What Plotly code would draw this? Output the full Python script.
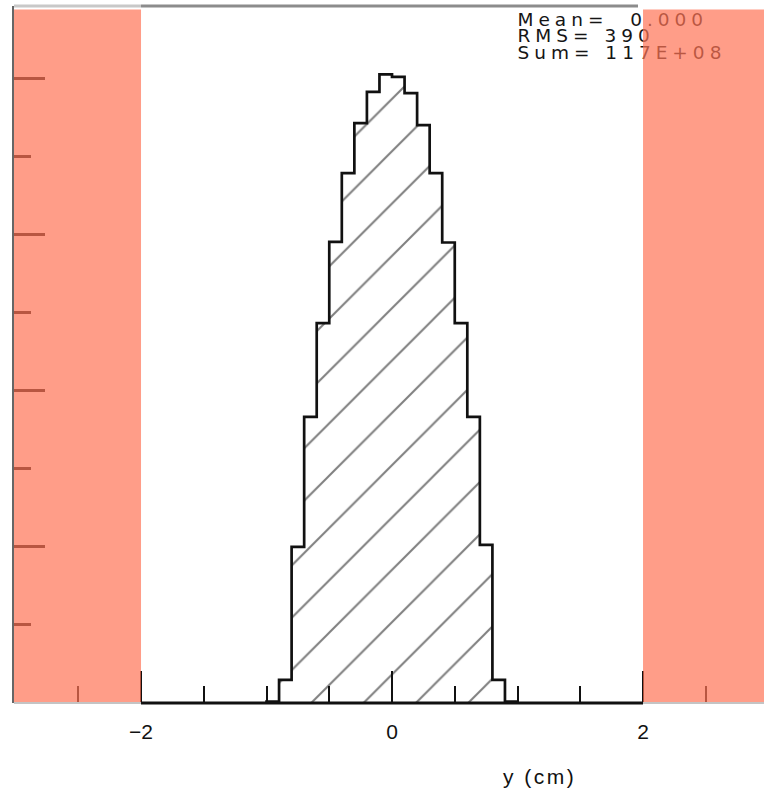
import plotly.graph_objects as go

# ---------------- data ----------------
bin_left = [-1.0, -0.9, -0.8, -0.7, -0.6, -0.5, -0.4, -0.3, -0.2, -0.1,
            0.0, 0.1, 0.2, 0.3, 0.4, 0.5, 0.6, 0.7, 0.8, 0.9]
bin_width = 0.1
counts = [0.024, 0.37, 2.50, 4.58, 6.08, 7.38, 8.48, 9.28, 9.78, 10.06,
          10.02, 9.76, 9.25, 8.48, 7.37, 6.08, 4.58, 2.53, 0.37, 0.024]  # x 1e6

cut_low, cut_high = -2.0, 2.0
x_range = [-3.012, 2.964]
y_range = [0, 11.155]

x_tick_vals = [-2, 0, 2]
x_tick_text = ["\u22122", "0", "2"]
x_minor_vals = [-2.5, -1.5, -1.0, -0.5, 0.5, 1.0, 1.5, 2.5]
y_tick_vals = [2.5, 5.0, 7.5, 10.0]
y_minor_vals = [1.25, 3.75, 6.25, 8.75]

stat_lines = ["Mean=  0.000", "RMS= 390", "Sum= 117E+08"]
stat_y = [10.91, 10.645, 10.38]
stat_x = 1.0
x_title = "y (cm)"

# ---------------- figure ----------------
edges = bin_left + [bin_left[-1] + bin_width]
xs = [edges[0]] + edges
ys = [0] + counts + [0]

fig = go.Figure()
fig.add_trace(go.Scatter(
    x=xs, y=ys, mode="lines", line=dict(shape="hv", color="#111111", width=2.7),
    fill="tozeroy", fillcolor="white",
    fillpattern=dict(shape="/", fgcolor="#000000", bgcolor="white", size=37, solidity=0.055),
    hoverinfo="skip", showlegend=False))

fig.add_trace(go.Scatter(
    x=[stat_x] * len(stat_lines), y=stat_y,
    text=['<span style="letter-spacing:5px">' + s + '</span>' for s in stat_lines],
    mode="text", textposition="middle right",
    textfont=dict(family="DejaVu Sans, Arial, sans-serif", size=18.5, color="#151515"),
    hoverinfo="skip", showlegend=False, cliponaxis=False))

font_main = dict(family="Liberation Sans, Arial, sans-serif", size=21, color="#111111")

fig.update_layout(
    width=764, height=799,
    margin=dict(l=14, r=0, t=6, b=96),
    paper_bgcolor="white", plot_bgcolor="white",
    showlegend=False,
    xaxis=dict(range=x_range, showgrid=False, zeroline=False,
               tickmode="array", tickvals=x_tick_vals, ticktext=x_tick_text,
               ticks="inside", ticklen=32, tickwidth=2, tickcolor="#111111",
               minor=dict(tickmode="array", tickvals=x_minor_vals, ticks="inside",
                          ticklen=17, tickwidth=2, tickcolor="#111111"),
               tickfont=font_main, ticklabelstandoff=14, showline=False),
    yaxis=dict(range=y_range, showgrid=False, zeroline=False,
               tickmode="array", tickvals=y_tick_vals, showticklabels=False,
               ticks="inside", ticklen=31, tickwidth=2.5, tickcolor="#111111",
               minor=dict(tickmode="array", tickvals=y_minor_vals, ticks="inside",
                          ticklen=17, tickwidth=2.5, tickcolor="#111111"),
               showline=True, linecolor="#666666", linewidth=2),
)

salmon = "rgba(255,115,85,0.70)"
for x0, x1 in [(x_range[0], cut_low), (cut_high, x_range[1])]:
    fig.add_shape(type="rect", xref="x", yref="paper", x0=x0, x1=x1, y0=0, y1=0.995,
                  fillcolor=salmon, line=dict(width=0), layer="above")

# frame lines
fig.add_shape(type="line", xref="x", yref="paper", x0=cut_low, x1=cut_high, y0=0, y1=0,
              line=dict(color="#111111", width=3), layer="above")
for x0, x1 in [(x_range[0], cut_low), (cut_high, x_range[1])]:
    fig.add_shape(type="line", xref="x", yref="paper", x0=x0, x1=x1, y0=0, y1=0,
                  line=dict(color="#c4c4c4", width=2), layer="above")
fig.add_shape(type="line", xref="x", yref="paper", x0=cut_low, x1=cut_high - 0.04, y0=1, y1=1,
              line=dict(color="#8c8c8c", width=3), layer="above")
fig.add_shape(type="line", xref="x", yref="paper", x0=x_range[0], x1=cut_low, y0=1, y1=1,
              line=dict(color="#c8c8c8", width=3), layer="above")

fig.add_annotation(text='<span style="letter-spacing:2.5px">' + x_title + '</span>',
                   xref="paper", yref="paper", x=0.701, y=-0.105,
                   showarrow=False, font=font_main, xanchor="center", yanchor="middle")

fig.write_html("out.html", config={"displayModeBar": False},
               post_script="document.body.style.margin='0px';document.body.style.overflow='hidden';")
